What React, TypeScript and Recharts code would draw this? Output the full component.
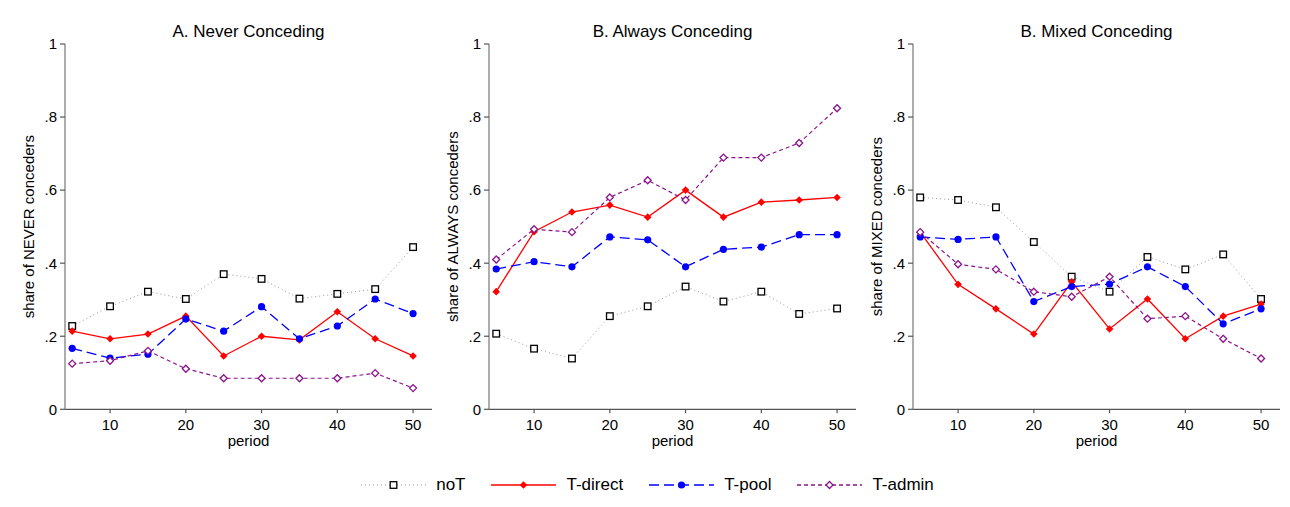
import { LineChart, Line, XAxis, YAxis } from "recharts";

const periods = [5, 10, 15, 20, 25, 30, 35, 40, 45, 50];
const xTicks = [10, 20, 30, 40, 50];
const yTicks = [0, 0.2, 0.4, 0.6, 0.8, 1];

// A. Never conceding
const neverNoT = [0.228, 0.282, 0.322, 0.302, 0.37, 0.357, 0.303, 0.316, 0.329, 0.444];
const neverDirect = [0.214, 0.193, 0.206, 0.255, 0.146, 0.2, 0.19, 0.267, 0.193, 0.146];
const neverPool = [0.167, 0.14, 0.151, 0.247, 0.214, 0.281, 0.193, 0.228, 0.302, 0.262];
const neverAdmin = [0.125, 0.133, 0.16, 0.111, 0.085, 0.085, 0.085, 0.085, 0.099, 0.058];

// B. Always conceding
const alwaysNoT = [0.207, 0.166, 0.139, 0.255, 0.282, 0.336, 0.295, 0.322, 0.261, 0.276];
const alwaysDirect = [0.322, 0.486, 0.54, 0.559, 0.526, 0.6, 0.526, 0.567, 0.573, 0.58];
const alwaysPool = [0.384, 0.404, 0.39, 0.472, 0.464, 0.39, 0.438, 0.444, 0.478, 0.478];
const alwaysAdmin = [0.41, 0.493, 0.485, 0.58, 0.627, 0.573, 0.689, 0.689, 0.729, 0.824];

// B. Mixed conceding
const mixedNoT = [0.58, 0.573, 0.553, 0.458, 0.363, 0.322, 0.417, 0.383, 0.424, 0.302];
const mixedDirect = [0.485, 0.342, 0.275, 0.206, 0.349, 0.22, 0.302, 0.193, 0.255, 0.288];
const mixedPool = [0.472, 0.465, 0.472, 0.295, 0.336, 0.343, 0.39, 0.336, 0.234, 0.275];
const mixedAdmin = [0.485, 0.397, 0.383, 0.322, 0.308, 0.363, 0.248, 0.255, 0.193, 0.139];

const FONT = '"Liberation Sans", Arial, Helvetica, sans-serif';

type Kind = "square" | "diamond" | "circle" | "hollowDiamond";

const series = [
  { key: "noT", name: "noT", color: "#999999", width: 1, dash: "1 3", marker: "square" as Kind, markerColor: "#000" },
  { key: "direct", name: "T-direct", color: "#ff0000", width: 1.3, dash: undefined, marker: "diamond" as Kind, markerColor: "#ff0000" },
  { key: "pool", name: "T-pool", color: "#0000ff", width: 1.3, dash: "10 5", marker: "circle" as Kind, markerColor: "#0000ff" },
  { key: "admin", name: "T-admin", color: "#8b138b", width: 1.2, dash: "4 3", marker: "hollowDiamond" as Kind, markerColor: "#8b138b" },
];

const buildRows = (noT: number[], direct: number[], pool: number[], admin: number[]) =>
  periods.map((p, i) => ({ period: p, noT: noT[i], direct: direct[i], pool: pool[i], admin: admin[i] }));

const panels = [
  { title: "A. Never Conceding", ylabel: "share of NEVER conceders", rows: buildRows(neverNoT, neverDirect, neverPool, neverAdmin), left: 0 },
  { title: "B. Always Conceding", ylabel: "share of ALWAYS conceders", rows: buildRows(alwaysNoT, alwaysDirect, alwaysPool, alwaysAdmin), left: 424 },
  { title: "B. Mixed Conceding", ylabel: "share of MIXED conceders", rows: buildRows(mixedNoT, mixedDirect, mixedPool, mixedAdmin), left: 848 },
];

function Marker({ cx, cy, kind, color }: { cx: number; cy: number; kind: Kind; color: string }) {
  if (cx == null || cy == null) return null;
  if (kind === "square")
    return <rect x={cx - 3.3} y={cy - 3.3} width={6.6} height={6.6} fill="#fff" stroke={color} strokeWidth={1.3} />;
  if (kind === "circle") return <circle cx={cx} cy={cy} r={3.6} fill={color} />;
  const d = kind === "diamond" ? 3.8 : 3.5;
  const pts = `${cx},${cy - d} ${cx + d},${cy} ${cx},${cy + d} ${cx - d},${cy}`;
  if (kind === "diamond") return <polygon points={pts} fill={color} />;
  return <polygon points={pts} fill="#fff" stroke={color} strokeWidth={1.3} />;
}

const fmtY = (v: number) => (v === 0 ? "0" : v === 1 ? "1" : v.toFixed(1).replace(/^0/, ""));

const W = 440;
const H = 460;

function Panel({ title, ylabel, rows, left }: (typeof panels)[number]) {
  return (
    <div style={{ position: "absolute", left, top: 0, width: W, height: H }}>
      <div
        style={{
          position: "absolute",
          left: 65,
          width: 367,
          top: 22,
          textAlign: "center",
          fontFamily: FONT,
          fontSize: 17,
          lineHeight: "20px",
          color: "#000",
        }}
      >
        {title}
      </div>
      <LineChart width={W} height={H} data={rows} margin={{ top: 44, right: 8, bottom: 10.7, left: 35 }}>
        <XAxis
          dataKey="period"
          type="number"
          domain={[4.05, 52.5]}
          ticks={xTicks}
          allowDataOverflow
          height={40}
          tickSize={4}
          tickMargin={6}
          axisLine={{ stroke: "#555", strokeWidth: 1.2 }}
          tickLine={{ stroke: "#555", strokeWidth: 1.2 }}
          tick={{ fill: "#000", fontSize: 15, fontFamily: FONT }}
          label={{
            content: (props: any) => {
              const vb = props.viewBox || {};
              return (
                <text x={vb.x + vb.width / 2} y={vb.y + 37} textAnchor="middle" fontSize={15} fontFamily={FONT} fill="#000">
                  period
                </text>
              );
            },
          }}
        />
        <YAxis
          type="number"
          domain={[0, 1]}
          ticks={yTicks}
          width={30}
          tickSize={5}
          tickMargin={3}
          tickFormatter={fmtY}
          axisLine={{ stroke: "#8a8a8a", strokeWidth: 1.4 }}
          tickLine={{ stroke: "#555", strokeWidth: 1.2 }}
          tick={{ fill: "#000", fontSize: 15, fontFamily: FONT }}
          label={{
            content: (props: any) => {
              const vb = props.viewBox || {};
              const x = vb.x + vb.width - 36;
              const y = vb.y + vb.height / 2;
              return (
                <text
                  x={x}
                  y={y}
                  transform={`rotate(-90 ${x} ${y})`}
                  textAnchor="middle"
                  dominantBaseline="central"
                  fontSize={15}
                  fontFamily={FONT}
                  fill="#000"
                >
                  {ylabel}
                </text>
              );
            },
          }}
        />
        {series.map((s) => (
          <Line
            key={s.key}
            dataKey={s.key}
            name={s.name}
            type="linear"
            stroke={s.color}
            strokeWidth={s.width}
            strokeDasharray={s.dash}
            isAnimationActive={false}
            dot={(p: any) => <Marker key={`${s.key}-${p.index}`} cx={p.cx} cy={p.cy} kind={s.marker} color={s.markerColor} />}
            activeDot={false}
          />
        ))}
      </LineChart>
    </div>
  );
}

function LegendRow() {
  return (
    <div
      style={{
        position: "absolute",
        left: 0,
        top: 475,
        width: 1290,
        display: "flex",
        justifyContent: "center",
        paddingLeft: 5,
        boxSizing: "border-box",
        fontFamily: FONT,
        fontSize: 17,
        color: "#000",
      }}
    >
      {series.map((s, i) => (
        <div key={s.key} style={{ display: "flex", alignItems: "center", marginLeft: i === 0 ? 0 : 26 }}>
          <svg width={65} height={16}>
            <line x1={0} y1={8} x2={65} y2={8} stroke={s.color} strokeWidth={s.width + 0.2} strokeDasharray={s.dash} />
            <Marker cx={32.5} cy={8} kind={s.marker} color={s.markerColor} />
          </svg>
          <span style={{ marginLeft: 10, lineHeight: "20px" }}>{s.name}</span>
        </div>
      ))}
    </div>
  );
}

export default function App() {
  return (
    <div style={{ position: "absolute", left: 0, top: 0, width: 1290, height: 507, background: "#fff", overflow: "hidden" }}>
      {panels.map((p) => (
        <Panel key={p.title} {...p} />
      ))}
      <LegendRow />
    </div>
  );
}
